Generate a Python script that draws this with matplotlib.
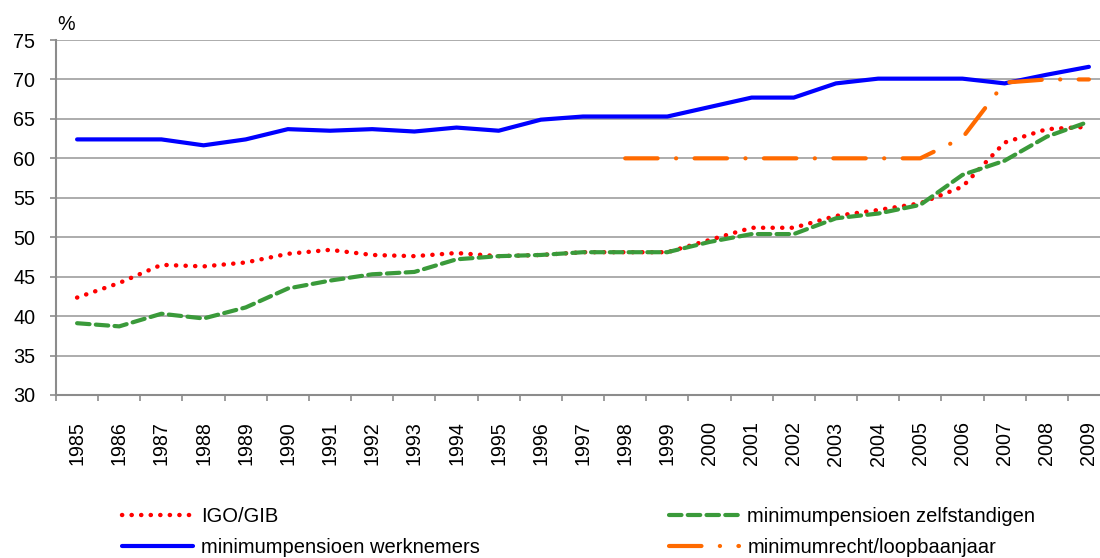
import numpy as np
import matplotlib
matplotlib.use("Agg")
import matplotlib.pyplot as plt

plt.rcParams['font.family'] = ['Liberation Sans', 'DejaVu Sans']

years = [str(y) for y in range(1985, 2010)]
igo_gib = [42.35, 44.2, 46.5, 46.3, 46.8, 47.9, 48.4, 47.75, 47.6, 48.0, 47.6, 47.75, 48.1,
           48.1, 48.1, 49.65, 51.2, 51.2, 52.7, 53.45, 54.3, 56.4, 62.0, 63.7, 64.0]
zelfstandigen = [39.1, 38.7, 40.3, 39.7, 41.1, 43.5, 44.5, 45.3, 45.6, 47.2, 47.6, 47.75, 48.1,
                 48.1, 48.1, 49.4, 50.4, 50.4, 52.4, 53.0, 54.1, 57.9, 59.7, 62.75, 64.65]
werknemers = [62.4, 62.4, 62.4, 61.65, 62.4, 63.7, 63.5, 63.7, 63.4, 63.9, 63.5, 64.9, 65.3,
              65.3, 65.3, 66.5, 67.7, 67.7, 69.5, 70.1, 70.1, 70.1, 69.5, 70.6, 71.6]
loopbaanjaar = [np.nan] * 13 + [60, 60, 60, 60, 60, 60, 60, 60, 62.6, 69.6, 70.0, 70.0]

x = np.arange(len(years))

fig = plt.figure(figsize=(11, 5.58), dpi=100)
ax = fig.add_axes([56 / 1100, 163 / 558, 1054 / 1100, 355 / 558])

gray = '#8c8c8c'
l_red, = ax.plot(x, igo_gib, color='#ff0000', lw=3.2, dashes=(0.05, 2.1),
                 dash_capstyle='round', label='IGO/GIB')
l_green, = ax.plot(x, zelfstandigen, color='#3a9a3a', lw=3, dashes=(3.0, 1.5),
                   dash_capstyle='round', label='minimumpensioen zelfstandigen')
l_blue, = ax.plot(x, werknemers, color='#0000ff', lw=3, solid_capstyle='round',
                  label='minimumpensioen werknemers')
l_orange, = ax.plot(x, loopbaanjaar, color='#ff6a00', lw=3, dashes=(7.8, 4.4, 0.05, 4.4),
                    dash_capstyle='round', label='minimumrecht/loopbaanjaar')

ax.set_xlim(-0.5, 24.5)
ax.set_ylim(30, 75)
ax.set_yticks(range(30, 80, 5))
ax.set_xticks(x)
ax.set_xticklabels(years, rotation=90)
ax.set_xticks(np.arange(-0.5, 25, 1), minor=True)
ax.tick_params(axis='x', which='major', length=0, pad=19, labelsize=14.2)
ax.tick_params(axis='x', which='minor', length=4, width=1.2, color=gray, direction='out')
ax.tick_params(axis='y', length=4, width=1.2, color=gray, pad=11, labelsize=14.2)

ax.grid(axis='y', color='#a6a6a6', lw=1.3)
ax.set_axisbelow(True)
for s in ['top', 'right']:
    ax.spines[s].set_visible(False)
for s in ['left', 'bottom']:
    ax.spines[s].set_color(gray)
    ax.spines[s].set_linewidth(1.5)

fig.text(57 / 1100, 1 - 24 / 558, '%', fontsize=14.2, va='center', ha='left')

fig.legend(handles=[l_red, l_blue, l_green, l_orange], ncol=2, frameon=False,
           loc='center left', bbox_to_anchor=(104 / 1100, 1 - 532 / 558),
           fontsize=14.5, handlelength=3.5, handletextpad=0.4, columnspacing=9.4,
           labelspacing=0.6)

fig.savefig('out.png', dpi=100)
